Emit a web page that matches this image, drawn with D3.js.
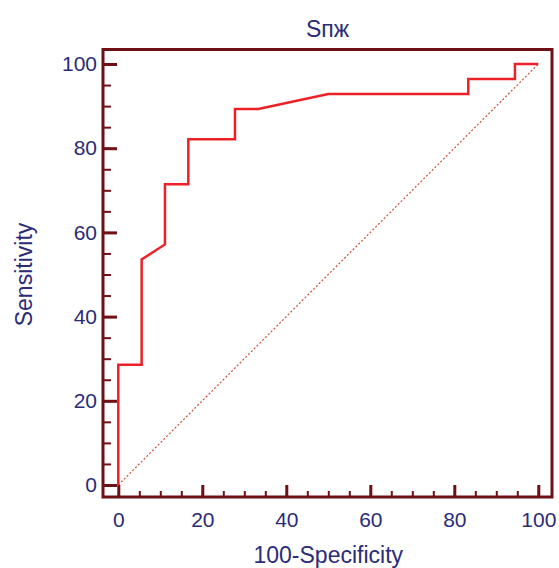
<!DOCTYPE html>
<html>
<head>
<meta charset="utf-8">
<script src="https://cdn.jsdelivr.net/npm/d3@7"></script>
<style>
  body { margin: 0; background: #fff; }
  text { font-family: "Liberation Sans", Arial, sans-serif; }
</style>
</head>
<body>
<div class="chart"></div>
<script>
// ROC curve points (100-Specificity, Sensitivity)
var fpr = [0, 0, 5.56, 5.56, 11.11, 11.11, 16.67, 16.67, 27.78, 27.78, 33.33, 50, 83.33, 83.33, 94.44, 94.44, 100];
var tpr = [0, 28.57, 28.57, 53.57, 57.14, 71.43, 71.43, 82.14, 82.14, 89.29, 89.29, 92.86, 92.86, 96.43, 96.43, 100, 100];
var majorTicks = [0, 20, 40, 60, 80, 100];
var minorTicks = d3.range(0, 101, 5);
var title = `Sпж`;
var xTitle = `100-Specificity`;
var yTitle = `Sensitivity`;

var fullWidth = 559, fullHeight = 568;
var frame = {left: 103, right: 552, top: 49.5, bottom: 497};

var svg = d3.select(`.chart`)
    .append(`svg`)
    .attr(`width`, fullWidth)
    .attr(`height`, fullHeight);

var xScale = d3.scaleLinear().domain([0, 100]).range([118.3, 538.3]);
var yScale = d3.scaleLinear().domain([0, 100]).range([485, 64]);

var frameColor = `#6e1016`;
var textColor = `#2b2b78`;

// frame
svg.append(`rect`)
    .attr(`x`, frame.left)
    .attr(`y`, frame.top)
    .attr(`width`, frame.right - frame.left)
    .attr(`height`, frame.bottom - frame.top)
    .style(`fill`, `none`)
    .style(`stroke`, frameColor)
    .style(`stroke-width`, 3);

// minor ticks
svg.append(`g`)
    .attr(`transform`, `translate(${frame.left},0)`)
    .call(d3.axisLeft(yScale).tickValues(minorTicks).tickSizeInner(-8).tickSizeOuter(0).tickFormat(``))
    .call(g => g.select(`.domain`).remove())
    .call(g => g.selectAll(`line`).style(`stroke`, frameColor).style(`stroke-width`, 2));

svg.append(`g`)
    .attr(`transform`, `translate(0,${frame.bottom})`)
    .call(d3.axisBottom(xScale).tickValues(minorTicks).tickSizeInner(-6).tickSizeOuter(0).tickFormat(``))
    .call(g => g.select(`.domain`).remove())
    .call(g => g.selectAll(`line`).style(`stroke`, frameColor).style(`stroke-width`, 2));

// major ticks + labels
svg.append(`g`)
    .attr(`transform`, `translate(${frame.left},0)`)
    .call(d3.axisLeft(yScale).tickValues(majorTicks).tickSizeInner(-14).tickSizeOuter(0).tickPadding(6))
    .call(g => g.select(`.domain`).remove())
    .call(g => g.selectAll(`line`).style(`stroke`, frameColor).style(`stroke-width`, 3))
    .call(g => g.selectAll(`text`).style(`fill`, textColor).style(`font-size`, `21px`)
        .style(`font-family`, `"Liberation Sans", Arial, sans-serif`));

svg.append(`g`)
    .attr(`transform`, `translate(0,${frame.bottom})`)
    .call(d3.axisBottom(xScale).tickValues(majorTicks).tickSizeInner(-12).tickSizeOuter(0).tickPadding(15))
    .call(g => g.select(`.domain`).remove())
    .call(g => g.selectAll(`line`).style(`stroke`, frameColor).style(`stroke-width`, 3))
    .call(g => g.selectAll(`text`).style(`fill`, textColor).style(`font-size`, `21px`)
        .style(`font-family`, `"Liberation Sans", Arial, sans-serif`));

// diagonal reference line
svg.append(`line`)
    .attr(`x1`, xScale(0)).attr(`y1`, yScale(0))
    .attr(`x2`, xScale(100)).attr(`y2`, yScale(100))
    .style(`stroke`, `#c8503c`)
    .style(`stroke-width`, 1.2)
    .style(`stroke-dasharray`, `2,2`);

// ROC curve
var line = d3.line()
    .x((d, i) => xScale(fpr[i]))
    .y((d, i) => yScale(tpr[i]));

svg.append(`path`)
    .datum(fpr)
    .attr(`d`, line)
    .style(`fill`, `none`)
    .style(`stroke`, `#ee2027`)
    .style(`stroke-width`, 2.5);

// titles
svg.append(`text`)
    .attr(`x`, (frame.left + frame.right) / 2)
    .attr(`y`, 37)
    .attr(`text-anchor`, `middle`)
    .style(`fill`, textColor)
    .style(`font-size`, `23px`)
    .text(title);

svg.append(`text`)
    .attr(`x`, xScale(50))
    .attr(`y`, 563)
    .attr(`text-anchor`, `middle`)
    .style(`fill`, textColor)
    .style(`font-size`, `23px`)
    .text(xTitle);

svg.append(`text`)
    .attr(`transform`, `translate(32,${yScale(50)}) rotate(-90)`)
    .attr(`text-anchor`, `middle`)
    .style(`fill`, textColor)
    .style(`font-size`, `23px`)
    .text(yTitle);
</script>
</body>
</html>
